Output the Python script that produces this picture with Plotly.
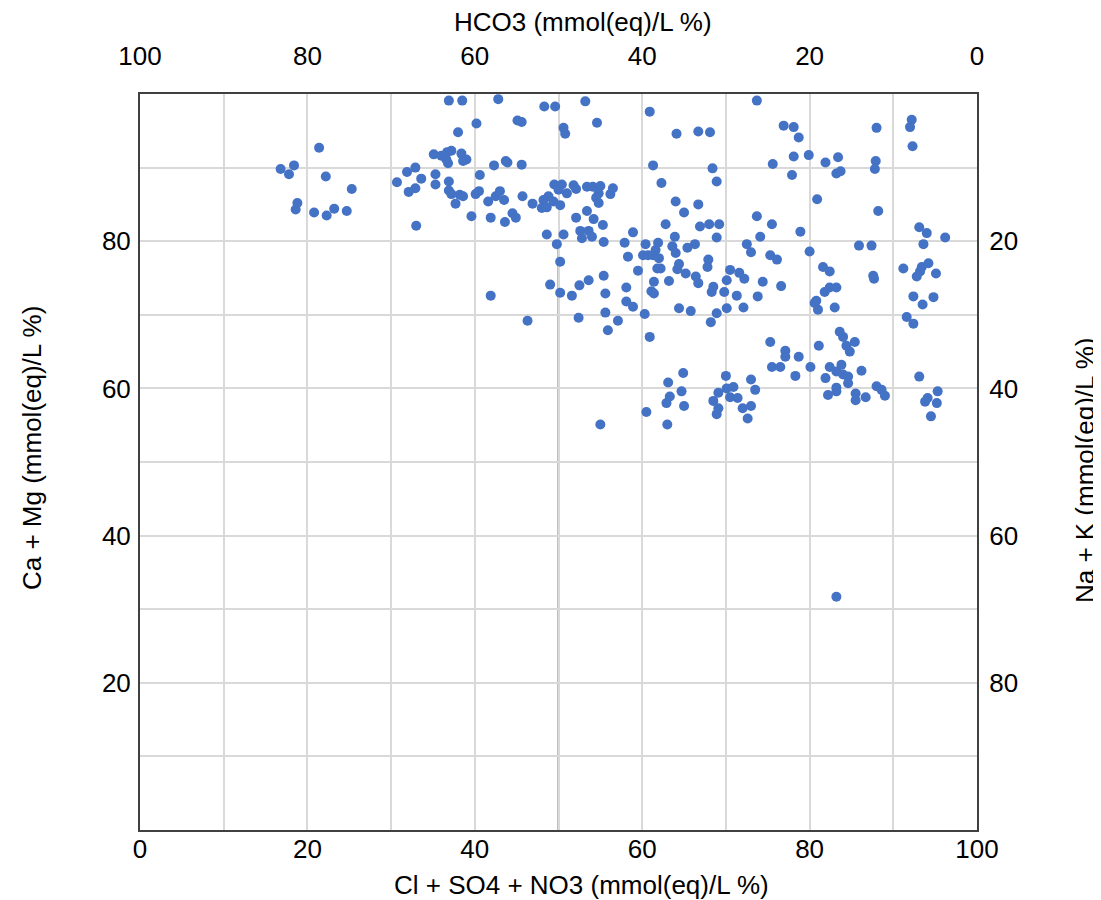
import plotly.graph_objects as go

# Cl + SO4 + NO3 (%) and Ca + Mg (%) per sample
cl_so4_no3 = [
    16.8, 17.8, 18.4, 21.4, 22.2, 25.3, 18.6, 20.8, 22.3, 23.2, 24.7, 18.8,
    33.0, 39.6, 41.9, 41.9, 37.7, 30.7, 31.9, 32.9, 33.6, 32.1, 32.9, 35.3,
    35.3, 35.1, 36.0, 36.6, 36.8, 37.2, 36.7, 38.4, 39.0, 38.6, 38.0, 36.9,
    38.5, 40.2, 42.8, 42.3, 40.6, 36.9, 36.9, 37.2, 38.2, 38.6, 40.1, 40.5,
    41.6, 42.5, 48.3, 49.6, 53.2, 45.1, 45.6, 50.6, 50.8, 54.6, 60.9, 64.1,
    66.7, 68.1, 43.7, 43.9, 45.6, 61.3, 68.4, 68.9, 62.3, 64.0, 66.7, 45.7,
    43.0, 43.5, 46.9, 49.5, 50.4, 50.0, 51.0, 51.8, 52.1, 53.4, 54.1, 55.0,
    54.8, 54.5, 54.8, 56.5, 56.2, 48.2, 48.8, 49.4, 50.2, 73.7, 76.9, 78.1,
    78.7, 88.0, 92.2, 92.0, 92.3, 75.6, 78.1, 79.9, 81.9, 83.4, 83.2, 83.7,
    77.9, 87.9, 87.8, 80.9, 43.6, 44.5, 44.9, 48.0, 48.6, 52.1, 53.4, 54.2,
    55.3, 48.6, 50.6, 52.6, 52.8, 53.6, 54.0, 49.8, 55.4, 57.9, 58.9, 58.3,
    50.2, 49.0, 50.2, 51.6, 52.5, 53.6, 55.4, 55.6, 58.1, 58.1, 58.9, 55.6,
    57.1, 52.4, 46.3, 60.3, 59.5, 60.4, 60.1, 60.7, 61.3, 61.9, 61.6, 62.0,
    61.8, 62.2, 61.4, 61.1, 61.4, 63.2, 62.8, 63.9, 65.0, 63.6, 64.0, 64.4,
    64.2, 65.4, 66.3, 65.2, 66.4, 66.7, 67.9, 67.8, 66.9, 68.0, 69.2, 68.9,
    70.5, 70.1, 71.6, 68.5, 68.3, 69.8, 71.3, 64.4, 65.8, 68.9, 70.1, 68.2,
    73.7, 75.5, 78.9, 74.1, 72.5, 73.0, 75.3, 76.1, 80.0, 88.2, 85.9, 87.4,
    93.1, 94.0, 96.2, 93.6, 72.2, 74.4, 76.6, 73.8, 72.1, 81.6, 82.4, 87.6,
    87.7, 81.8, 82.4, 83.2, 80.8, 80.6, 81.0, 83.0, 91.2, 93.4, 94.2, 93.2,
    92.8, 95.1, 92.4, 93.5, 94.8, 91.6, 92.4, 55.9, 60.9, 64.9, 63.1, 64.7,
    63.3, 62.9, 65.0, 60.5, 63.0, 55.0, 70.0, 69.1, 70.1, 70.9, 70.5, 71.4,
    68.5, 69.1, 68.9, 75.3, 77.1, 77.1, 78.7, 75.5, 76.5, 78.3, 80.1, 81.1,
    83.6, 84.0, 85.4, 84.4, 84.8, 82.4, 83.8, 83.2, 84.0, 84.6, 84.6, 81.9,
    86.2, 83.2, 82.2, 83.2, 85.5, 85.5, 86.7, 88.0, 88.6, 89.0, 93.1, 95.3,
    94.1, 93.8, 95.2, 94.5, 73.0, 73.5, 72.0, 73.0, 72.6, 83.2,
]
ca_mg = [
    89.8, 89.1, 90.3, 92.7, 88.8, 87.1, 84.3, 83.9, 83.5, 84.4, 84.1, 85.2,
    82.1, 83.4, 83.2, 72.6, 85.1, 88.0, 89.4, 90.0, 88.5, 86.7, 87.2, 89.1,
    87.7, 91.8, 91.6, 91.1, 90.6, 92.3, 92.1, 91.9, 91.1, 90.9, 94.8, 99.1,
    99.1, 96.0, 99.3, 90.3, 89.0, 88.1, 86.9, 86.4, 86.3, 86.1, 86.4, 86.8,
    85.4, 86.1, 98.3, 98.3, 99.0, 96.4, 96.2, 95.4, 94.6, 96.1, 97.6, 94.6,
    94.9, 94.8, 90.9, 90.7, 90.4, 90.3, 89.9, 88.1, 87.9, 85.4, 85.0, 86.1,
    86.8, 85.6, 85.1, 87.7, 87.7, 87.0, 86.5, 87.6, 87.1, 87.4, 87.4, 87.5,
    86.5, 85.9, 85.2, 87.2, 86.4, 85.6, 86.1, 85.4, 84.9, 99.1, 95.7, 95.5,
    94.1, 95.4, 96.5, 95.5, 92.9, 90.5, 91.5, 91.7, 90.7, 91.4, 89.2, 89.5,
    89.0, 90.9, 89.8, 85.7, 82.6, 83.8, 83.2, 84.5, 84.6, 83.2, 84.1, 83.0,
    82.2, 80.9, 80.9, 81.4, 80.4, 81.4, 80.6, 79.6, 79.9, 79.8, 81.2, 77.9,
    77.2, 74.1, 73.0, 72.6, 74.0, 74.7, 75.3, 72.9, 73.7, 71.8, 71.1, 70.3,
    69.2, 69.6, 69.2, 70.1, 76.0, 79.6, 78.1, 78.1, 78.1, 79.8, 78.8, 77.7,
    76.3, 76.3, 74.5, 73.2, 72.9, 74.6, 82.3, 80.6, 83.9, 79.3, 78.4, 76.9,
    76.2, 79.1, 79.6, 75.6, 75.2, 74.3, 77.5, 76.5, 82.0, 82.3, 82.3, 80.5,
    76.1, 74.7, 75.7, 73.8, 73.1, 73.1, 72.6, 70.9, 70.5, 70.2, 70.9, 69.0,
    83.4, 82.3, 81.3, 80.6, 79.6, 78.5, 78.1, 77.5, 78.6, 84.1, 79.4, 79.4,
    81.9, 81.1, 80.5, 79.6, 74.9, 74.5, 73.9, 72.5, 71.0, 76.5, 75.9, 75.3,
    74.9, 73.1, 73.7, 73.7, 71.9, 71.6, 70.7, 71.0, 76.3, 76.5, 77.0, 75.9,
    75.2, 75.6, 72.5, 71.4, 72.4, 69.7, 68.8, 67.9, 67.0, 62.1, 60.8, 59.6,
    58.9, 58.0, 57.6, 56.8, 55.1, 55.1, 61.7, 59.4, 60.0, 60.2, 58.8, 58.7,
    58.3, 57.3, 56.5, 66.3, 65.1, 64.3, 64.3, 62.9, 62.9, 61.7, 62.9, 65.8,
    67.7, 67.0, 66.3, 65.8, 65.0, 62.9, 63.2, 62.3, 61.9, 61.6, 60.7, 61.4,
    62.4, 60.1, 59.1, 59.6, 59.3, 58.4, 58.8, 60.3, 59.8, 59.0, 61.6, 59.6,
    58.7, 58.2, 58.0, 56.2, 61.2, 59.8, 57.3, 57.6, 55.9, 31.7,
]

bottom_ticks = [0, 20, 40, 60, 80, 100]
top_ticks = [0, 20, 40, 60, 80, 100]
side_ticks = [20, 40, 60, 80]

# classification lines: (x0, y0, x1, y1)
divisions = [(0, 80, 100, 80), (0, 50, 100, 50), (40, 80, 40, 100),
             (60, 80, 60, 100), (50, 0, 50, 80)]

font_family = "Liberation Sans, Arial, sans-serif"
grid_col = '#D9D9D9'

fig = go.Figure()
fig.add_scatter(x=cl_so4_no3, y=ca_mg, mode='markers', cliponaxis=False,
                marker=dict(color='#4472C4', size=10, line=dict(width=0)),
                hoverinfo='skip', showlegend=False)
fig.add_scatter(x=[None], y=[None], xaxis='x2', yaxis='y2', showlegend=False)

for x0, y0, x1, y1 in divisions:
  fig.add_shape(type='line', x0=x0, y0=y0, x1=x1, y1=y1, xref='x', yref='y',
                line=dict(color='black', width=1.5), layer='below')

axis_common = dict(showgrid=True, gridcolor=grid_col, gridwidth=1.5, zeroline=False,
                   ticks='outside', tickcolor='rgba(0,0,0,0)',
                   tickfont=dict(family=font_family, size=26, color='black'))

fig.update_layout(
  width=1093, height=892,
  margin=dict(l=132, r=124, t=86, b=70),
  plot_bgcolor='white', paper_bgcolor='white',
  font=dict(family=font_family, size=26, color='black'),
  xaxis=dict(range=[0, 100], tickvals=bottom_ticks, ticklen=0, ticklabelstandoff=-5,
             minor=dict(dtick=10, showgrid=True, gridcolor=grid_col, gridwidth=1.5),
             showline=True, mirror=True, linecolor='#404040', linewidth=2, **axis_common),
  yaxis=dict(range=[0, 100], tickvals=side_ticks, ticklen=2,
             minor=dict(dtick=10, showgrid=True, gridcolor=grid_col, gridwidth=1.5),
             showline=True, mirror=True, linecolor='#404040', linewidth=2, **axis_common),
  xaxis2=dict(range=[100, 0], overlaying='x', side='top', tickvals=top_ticks, ticklen=18,
              showline=False, anchor='y2', **{**axis_common, 'showgrid': False}),
  yaxis2=dict(range=[100, 0], overlaying='y', side='right', tickvals=side_ticks, ticklen=6,
              showline=False, anchor='x2', **{**axis_common, 'showgrid': False}),
  annotations=[
    dict(text='HCO3 (mmol(eq)/L %)', x=0.529, y=1.098, xref='paper', yref='paper',
         showarrow=False, xanchor='center', yanchor='middle'),
    dict(text='Cl + SO4 + NO3 (mmol(eq)/L %)', x=0.527, y=-0.075, xref='paper', yref='paper',
         showarrow=False, xanchor='center', yanchor='middle'),
    dict(text='Ca + Mg (mmol(eq)/L %)', x=-0.129, y=0.519, xref='paper', yref='paper',
         showarrow=False, textangle=-90, xanchor='center', yanchor='middle'),
    dict(text='Na + K (mmol(eq)/L %)', x=1.129, y=0.489, xref='paper', yref='paper',
         showarrow=False, textangle=-90, xanchor='center', yanchor='middle'),
  ],
)

fig.write_html("out.html")
